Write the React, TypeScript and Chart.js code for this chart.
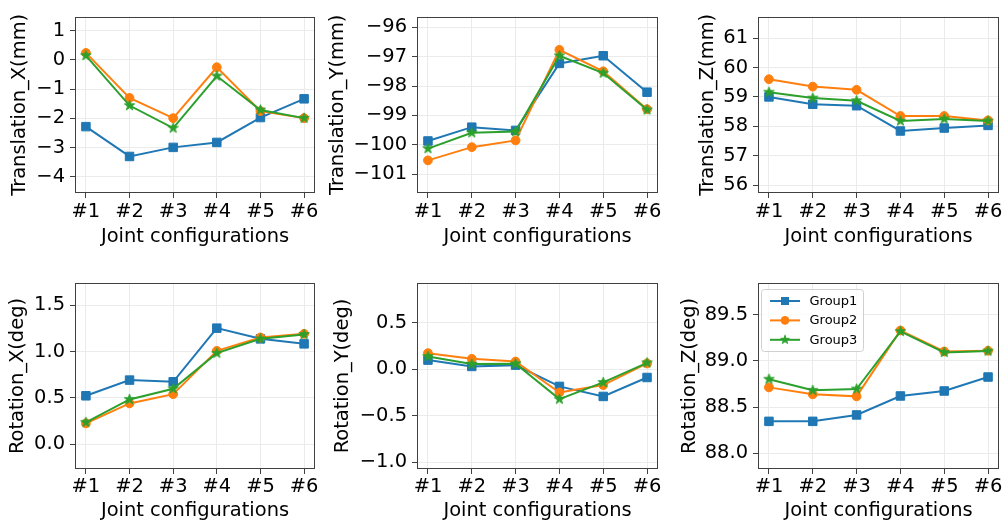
import React, { useEffect, useRef } from 'react';
import { Chart, registerables } from 'chart.js';

Chart.register(...registerables);

const FONT = "'DejaVu Sans', sans-serif";
const FS = 19.44;

const CATEGORIES = ['#1', '#2', '#3', '#4', '#5', '#6'];
const GROUPS = ['Group1', 'Group2', 'Group3'];
const COLORS = ['#1f77b4', '#ff7f0e', '#2ca02c'];
const X_TITLE = 'Joint configurations';

const TX_G1 = [-2.28, -3.3, -2.99, -2.82, -1.97, -1.33];
const TX_G2 = [0.24, -1.3, -1.99, -0.25, -1.75, -1.99];
const TX_G3 = [0.15, -1.56, -2.33, -0.55, -1.71, -1.99];
const TX_TICKS = [-4, -3, -2, -1, 0, 1];

const TY_G1 = [-99.87, -99.4, -99.51, -97.23, -96.97, -98.21];
const TY_G2 = [-100.53, -100.08, -99.85, -96.77, -97.5, -98.79];
const TY_G3 = [-100.13, -99.59, -99.55, -96.97, -97.56, -98.81];
const TY_TICKS = [-101, -100, -99, -98, -97, -96];

const TZ_G1 = [59.0, 58.75, 58.7, 57.84, 57.94, 58.03];
const TZ_G2 = [59.6, 59.35, 59.24, 58.35, 58.35, 58.2];
const TZ_G3 = [59.16, 58.96, 58.87, 58.18, 58.25, 58.18];
const TZ_TICKS = [56, 57, 58, 59, 60, 61];

const RX_G1 = [0.523, 0.692, 0.674, 1.251, 1.136, 1.082];
const RX_G2 = [0.226, 0.441, 0.541, 1.007, 1.151, 1.19];
const RX_G3 = [0.237, 0.484, 0.599, 0.982, 1.136, 1.183];
const RX_TICKS = [0, 0.5, 1.0, 1.5];

const RY_G1 = [0.097, 0.029, 0.043, -0.186, -0.294, -0.09];
const RY_G2 = [0.172, 0.111, 0.082, -0.251, -0.172, 0.061];
const RY_G3 = [0.136, 0.054, 0.057, -0.323, -0.143, 0.068];
const RY_TICKS = [-1.0, -0.5, 0.0, 0.5];

const RZ_G1 = [88.345, 88.345, 88.414, 88.619, 88.673, 88.824];
const RZ_G2 = [88.712, 88.637, 88.615, 89.327, 89.1, 89.108];
const RZ_G3 = [88.8, 88.68, 88.694, 89.317, 89.09, 89.104];
const RZ_TICKS = [88.0, 88.5, 89.0, 89.5];

type Panel = {
  title: string;
  series: number[][];
  ticks: number[];
  min: number;
  max: number;
  dec: number;
  left: number;
  top: number;
  w: number;
  h: number;
  axisW: number;
  axisH: number;
  padTop: number;
  padRight: number;
  yTitlePad: number;
  xTitlePad: number;
  tickPad: number;
  legend: boolean;
};

const PANELS: Panel[] = [
  { title: 'Translation_X(mm)', series: [TX_G1, TX_G2, TX_G3], ticks: TX_TICKS, min: -4.55, max: 1.48, dec: 0,
    left: 0, top: 0, w: 322, h: 263, axisW: 75, axisH: 70, padTop: 6, padRight: 6, yTitlePad: 8.3, xTitlePad: 14.6, tickPad: 2.5, legend: false },
  { title: 'Translation_Y(mm)', series: [TY_G1, TY_G2, TY_G3], ticks: TY_TICKS, min: -101.64, max: -95.64, dec: 0,
    left: 322, top: 0, w: 346, h: 263, axisW: 95, axisH: 70, padTop: 6, padRight: 10, yTitlePad: 4.3, xTitlePad: 14.6, tickPad: 2.5, legend: false },
  { title: 'Translation_Z(mm)', series: [TZ_G1, TZ_G2, TZ_G3], ticks: TZ_TICKS, min: 55.73, max: 61.73, dec: 0,
    left: 668, top: 0, w: 340, h: 263, axisW: 90, axisH: 70, padTop: 6, padRight: 9, yTitlePad: 28.3, xTitlePad: 14.6, tickPad: 2.5, legend: false },
  { title: 'Rotation_X(deg)', series: [RX_G1, RX_G2, RX_G3], ticks: RX_TICKS, min: -0.265, max: 1.737, dec: 1,
    left: 0, top: 263, w: 322, h: 263, axisW: 75, axisH: 57, padTop: 20, padRight: 6, yTitlePad: 6.3, xTitlePad: 3.6, tickPad: 1.5, legend: false },
  { title: 'Rotation_Y(deg)', series: [RY_G1, RY_G2, RY_G3], ticks: RY_TICKS, min: -1.075, max: 0.927, dec: 1,
    left: 322, top: 263, w: 346, h: 263, axisW: 95, axisH: 57, padTop: 20, padRight: 10, yTitlePad: 9.3, xTitlePad: 3.6, tickPad: 1.5, legend: false },
  { title: 'Rotation_Z(deg)', series: [RZ_G1, RZ_G2, RZ_G3], ticks: RZ_TICKS, min: 87.83, max: 89.84, dec: 1,
    left: 668, top: 263, w: 340, h: 263, axisW: 90, axisH: 57, padTop: 20, padRight: 9, yTitlePad: 10.3, xTitlePad: 3.6, tickPad: 1.5, legend: true },
];

function makeStar(color: string, R: number): HTMLCanvasElement {
  const c = document.createElement('canvas');
  const s = Math.ceil(R * 2 + 4);
  c.width = s;
  c.height = s;
  const ctx = c.getContext('2d')!;
  const cx = s / 2, cy = s / 2, r = R * 0.381966;
  ctx.beginPath();
  for (let i = 0; i < 10; i++) {
    const ang = -Math.PI / 2 + (i * Math.PI) / 5;
    const rad = i % 2 === 0 ? R : r;
    ctx.lineTo(cx + rad * Math.cos(ang), cy + rad * Math.sin(ang));
  }
  ctx.closePath();
  ctx.fillStyle = color;
  ctx.fill();
  ctx.strokeStyle = color;
  ctx.lineWidth = 1;
  ctx.stroke();
  return c;
}

const fmt = (v: number, dec: number) => (v < 0 ? '\u2212' : '') + Math.abs(v).toFixed(dec);

const framePlugin = {
  id: 'mplFrame',
  afterDraw(chart: any) {
    const { ctx, chartArea } = chart;
    const l = Math.round(chartArea.left) + 0.5;
    const t = Math.round(chartArea.top) + 0.5;
    const r = Math.round(chartArea.right) - 0.5;
    const b = Math.round(chartArea.bottom) - 0.5;
    ctx.save();
    ctx.strokeStyle = '#404040';
    ctx.lineWidth = 1;
    ctx.strokeRect(l, t, r - l, b - t);
    ctx.restore();
  },
};

function makeLegendPlugin(star: HTMLCanvasElement) {
  return {
    id: 'mplLegend',
    afterDraw(chart: any) {
      const { ctx, chartArea } = chart;
      const bx = Math.round(chartArea.left) + 3.5;
      const by = Math.round(chartArea.top) + 6.5;
      const bw = 102;
      const bh = 62;
      ctx.save();
      ctx.beginPath();
      ctx.roundRect(bx, by, bw, bh, 3);
      ctx.fillStyle = 'rgba(255,255,255,0.8)';
      ctx.fill();
      ctx.strokeStyle = '#d0d0d0';
      ctx.lineWidth = 1;
      ctx.stroke();
      ctx.font = `13px ${FONT}`;
      ctx.textBaseline = 'middle';
      ctx.textAlign = 'left';
      GROUPS.forEach((g, i) => {
        const y = by + 11.5 + i * 19.4;
        const c = COLORS[i];
        ctx.strokeStyle = c;
        ctx.lineWidth = 2;
        ctx.beginPath();
        ctx.moveTo(bx + 8.5, y);
        ctx.lineTo(bx + 38.5, y);
        ctx.stroke();
        const mx = bx + 23.5;
        ctx.fillStyle = c;
        if (i === 0) {
          ctx.fillRect(mx - 4, y - 4, 8, 8);
        } else if (i === 1) {
          ctx.beginPath();
          ctx.arc(mx, y, 4.3, 0, Math.PI * 2);
          ctx.fill();
        } else {
          ctx.drawImage(star, mx - star.width / 2, y - star.height / 2);
        }
        ctx.fillStyle = '#000';
        ctx.fillText(g, bx + 48, y + 0.5);
      });
      ctx.restore();
    },
  };
}

export default function App() {
  const refs = useRef<(HTMLCanvasElement | null)[]>([]);

  useEffect(() => {
    const star = makeStar(COLORS[2], 5.4);
    const legendStar = makeStar(COLORS[2], 4.6);
    const charts = PANELS.map((p, pi) => {
      const canvas = refs.current[pi]!;
      const datasets = p.series.map((vals, i) => ({
        label: GROUPS[i],
        data: vals.map((y, k) => ({ x: k + 1, y })),
        borderColor: COLORS[i],
        backgroundColor: COLORS[i],
        pointBackgroundColor: COLORS[i],
        pointBorderColor: COLORS[i],
        borderWidth: 2,
        pointBorderWidth: 1,
        pointStyle: i === 0 ? 'rect' : i === 1 ? 'circle' : (star as any),
        pointRadius: i === 0 ? 6 : i === 1 ? 4.4 : 5,
        tension: 0,
        order: 2 - i,
      }));
      const plugins: any[] = [framePlugin];
      if (p.legend) plugins.push(makeLegendPlugin(legendStar));
      return new Chart(canvas, {
        type: 'line',
        data: { datasets },
        plugins,
        options: {
          responsive: false,
          animation: false,
          devicePixelRatio: 1,
          layout: { padding: { top: p.padTop, right: p.padRight, left: 0, bottom: 0 } },
          plugins: { legend: { display: false }, tooltip: { enabled: false } },
          scales: {
            x: {
              type: 'linear',
              min: 0.75,
              max: 6.25,
              afterBuildTicks: (s: any) => {
                s.ticks = CATEGORIES.map((_, k) => ({ value: k + 1 }));
              },
              afterFit: (s: any) => {
                s.height = p.axisH;
              },
              ticks: {
                autoSkip: false,
                maxRotation: 0,
                padding: p.tickPad,
                color: '#000',
                font: { family: FONT, size: FS },
                callback: (v: any) => CATEGORIES[Math.round(Number(v)) - 1] ?? '',
              },
              grid: { color: '#ebebeb', lineWidth: 1, tickColor: '#404040', tickLength: 5, drawTicks: true },
              border: { display: false },
              title: {
                display: true,
                text: X_TITLE,
                color: '#000',
                font: { family: FONT, size: FS },
                padding: { top: 0, bottom: p.xTitlePad },
              },
            },
            y: {
              type: 'linear',
              min: p.min,
              max: p.max,
              afterBuildTicks: (s: any) => {
                s.ticks = p.ticks.map((v) => ({ value: v }));
              },
              afterFit: (s: any) => {
                s.width = p.axisW;
              },
              ticks: {
                padding: 5,
                color: '#000',
                font: { family: FONT, size: FS },
                callback: (v: any) => fmt(Number(v), p.dec),
              },
              grid: { color: '#ebebeb', lineWidth: 1, tickColor: '#404040', tickLength: 5, drawTicks: true },
              border: { display: false },
              title: {
                display: true,
                text: p.title,
                color: '#000',
                font: { family: FONT, size: FS },
                padding: { top: p.yTitlePad, bottom: 0 },
              },
            },
          },
        },
      });
    });
    return () => charts.forEach((c) => c.destroy());
  }, []);

  return (
    <div style={{ position: 'fixed', left: 0, top: 0, width: 1008, height: 526, background: '#fff' }}>
      {PANELS.map((p, i) => (
        <canvas
          key={i}
          ref={(el) => {
            refs.current[i] = el;
          }}
          width={p.w}
          height={p.h}
          style={{ position: 'absolute', left: p.left, top: p.top, width: p.w, height: p.h }}
        />
      ))}
    </div>
  );
}
